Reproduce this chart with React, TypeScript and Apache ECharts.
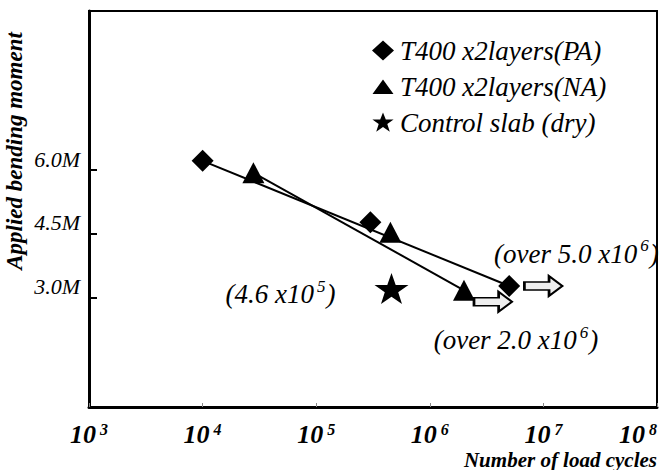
import { useEffect, useRef } from 'react';
import * as echarts from 'echarts';

// Fatigue test results: load cycles at failure vs. applied bending moment (M)
const seriesNames = ['T400 x2layers(PA)', 'T400 x2layers(NA)', 'Control slab (dry)'];
const paCycles = [1.0e4, 3.0e5, 5.0e6];
const paMoment = [6.22, 4.77, 3.27];
const naCycles = [2.8e4, 4.5e5, 2.0e6];
const naMoment = [5.94, 4.54, 3.17];
const controlCycles = [4.6e5];
const controlMoment = [3.21];
// run-out markers (specimens that had not failed when the test stopped)
const runoutCycles = [1.0e7, 3.6e6];
const runoutMoment = [3.27, 2.9];
const runoutNotes = ['(over 5.0 x10{sup|6})', '(over 2.0 x10{sup|6})'];
const controlNote = '(4.6 x10{sup|5})';
const momentTicks = [3.0, 4.5, 6.0];
const cycleRange = [1e3, 1e8];

const SERIF = 'Liberation Serif, serif';
const ARROW = 'path://M0,6L24,6L24,0L37,10L24,20L24,14L0,14Z';
const STAR = 'path://M50,0L61.8,34.5L97.6,34.5L68.8,55.9L79.4,90.5L50,69.1L20.6,90.5L31.2,55.9L2.4,34.5L38.2,34.5Z';
// legend icons: two sub-pixel specks pin the 24x20 frame so each shape keeps its own size
const FRAME = 'M0,0L0.01,0.01L0,0.01ZM24,20L23.99,19.99L24,19.99Z';
const LEGEND_DIAMOND = `path://${FRAME}M12,0L23,10L12,20L1,10Z`;
const LEGEND_TRIANGLE = `path://${FRAME}M1.5,17.5L12,3L22.5,17.5Z`;
const LEGEND_STAR = `path://${FRAME}M12,0L14.8,7.1L22.6,7.1L16.3,11.6L18.8,19.2L12,14.6L5.2,19.2L7.7,11.6L1.4,7.1L9.2,7.1Z`;

const noteRich = {
  t: { fontFamily: SERIF, fontStyle: 'italic', fontSize: 27, color: '#000', lineHeight: 30, verticalAlign: 'bottom' },
  sup: { fontFamily: SERIF, fontStyle: 'italic', fontSize: 17, color: '#000', lineHeight: 16, verticalAlign: 'top', padding: [0, 1, 0, 3] },
};

const wrapNote = (s: string) => {
  const parts = s.split(/(\{sup\|[^}]*\})/).filter((p) => p.length > 0);
  return parts.map((p) => (p.startsWith('{sup|') ? p : `{t|${p}}`)).join('');
};

export default function App() {
  const ref = useRef<HTMLDivElement>(null);

  useEffect(() => {
    if (!ref.current) return;
    const chart = echarts.init(ref.current, undefined, { renderer: 'svg' });
    const pa = paCycles.map((c, i) => [c, paMoment[i]]);
    const na = naCycles.map((c, i) => [c, naMoment[i]]);
    const ctrl = controlCycles.map((c, i) => [c, controlMoment[i]]);
    const runout = runoutCycles.map((c, i) => ({
      value: [c, runoutMoment[i]],
      label: {
        show: true,
        position: 'inside',
        offset: i === 0 ? [33, -34] : [23, 37],
        formatter: wrapNote(runoutNotes[i]),
        rich: noteRich,
      },
    }));

    chart.setOption({
      animation: false,
      backgroundColor: '#fff',
      grid: {
        left: 89,
        right: 7,
        top: 11,
        bottom: 63,
        show: true,
        borderColor: '#000',
        borderWidth: 2,
        outerBoundsMode: 'none',
      },
      legend: {
        orient: 'vertical',
        left: 366,
        top: 32,
        itemWidth: 24,
        itemHeight: 20,
        itemGap: 9,
        textStyle: { fontFamily: SERIF, fontStyle: 'italic', fontSize: 27, color: '#000' },
        data: [
          { name: seriesNames[0], icon: LEGEND_DIAMOND },
          { name: seriesNames[1], icon: LEGEND_TRIANGLE },
          { name: seriesNames[2], icon: LEGEND_STAR },
        ],
      },
      xAxis: {
        type: 'log',
        logBase: 10,
        min: cycleRange[0],
        max: cycleRange[1],
        name: 'Number of load cycles',
        nameLocation: 'end',
        nameGap: 0,
        nameTextStyle: {
          fontFamily: SERIF,
          fontStyle: 'italic',
          fontWeight: 'bold',
          fontSize: 21,
          color: '#000',
          align: 'right',
          verticalAlign: 'top',
          padding: [42, 0, 0, 0],
        },
        axisLine: { show: true, lineStyle: { color: '#000', width: 3 } },
        axisTick: { show: true, inside: true, length: 4, lineStyle: { color: '#888', width: 1 } },
        splitLine: { show: false },
        minorTick: { show: false },
        axisLabel: {
          margin: 14,
          alignMaxLabel: 'right',
          formatter: (v: number) => `{b|10}{s|${Math.round(Math.log10(v))}}`,
          rich: {
            b: { fontFamily: SERIF, fontStyle: 'italic', fontWeight: 'bold', fontSize: 26, color: '#000', lineHeight: 26, verticalAlign: 'bottom' },
            s: { fontFamily: SERIF, fontStyle: 'italic', fontWeight: 'bold', fontSize: 16, color: '#000', lineHeight: 16, verticalAlign: 'top', padding: [0, 0, 0, 4] },
          },
        },
      },
      yAxis: {
        type: 'value',
        min: 0.42,
        max: 9.75,
        axisLine: { show: true, lineStyle: { color: '#000', width: 3 } },
        axisTick: { show: true, inside: true, length: 8, customValues: momentTicks, lineStyle: { color: '#000', width: 2 } },
        splitLine: { show: false },
        axisLabel: {
          customValues: momentTicks,
          formatter: (v: number) => `${v.toFixed(1)}M`,
          fontFamily: SERIF,
          fontStyle: 'italic',
          fontSize: 22,
          color: '#000',
          margin: 9,
          verticalAlign: 'bottom',
        },
      },
      graphic: [
        {
          type: 'text',
          x: 14,
          y: 151,
          rotation: Math.PI / 2,
          style: {
            text: 'Applied bending moment',
            font: `italic bold 23px ${SERIF}`,
            fill: '#000',
            align: 'center',
            verticalAlign: 'middle',
          },
        },
      ],
      series: [
        {
          type: 'line',
          silent: true,
          symbol: 'none',
          z: 1,
          lineStyle: { color: '#000', width: 2 },
          data: [pa[0], pa[pa.length - 1]],
        },
        {
          type: 'line',
          silent: true,
          symbol: 'none',
          z: 1,
          lineStyle: { color: '#000', width: 2 },
          data: [na[0], na[na.length - 1]],
        },
        {
          name: seriesNames[0],
          type: 'scatter',
          symbol: 'diamond',
          symbolSize: [22, 22],
          z: 3,
          itemStyle: { color: '#000', opacity: 1 },
          data: pa,
        },
        {
          name: seriesNames[1],
          type: 'scatter',
          symbol: 'triangle',
          symbolSize: [22, 21],
          z: 3,
          itemStyle: { color: '#000', opacity: 1 },
          data: na,
        },
        {
          name: seriesNames[2],
          type: 'scatter',
          symbol: STAR,
          symbolSize: [34, 31],
          z: 3,
          itemStyle: { color: '#000', opacity: 1 },
          label: {
            show: true,
            position: 'inside',
            offset: [-111, 4],
            formatter: wrapNote(controlNote),
            rich: noteRich,
          },
          data: ctrl,
        },
        {
          type: 'scatter',
          symbol: ARROW,
          symbolSize: [38, 20],
          z: 2,
          silent: true,
          itemStyle: { color: '#eeeeee', borderColor: '#000', borderWidth: 2, opacity: 1 },
          data: runout,
        },
      ],
    });
    return () => chart.dispose();
  }, []);

  return <div ref={ref} style={{ position: 'fixed', left: 0, top: 0, width: 664, height: 470 }} />;
}
